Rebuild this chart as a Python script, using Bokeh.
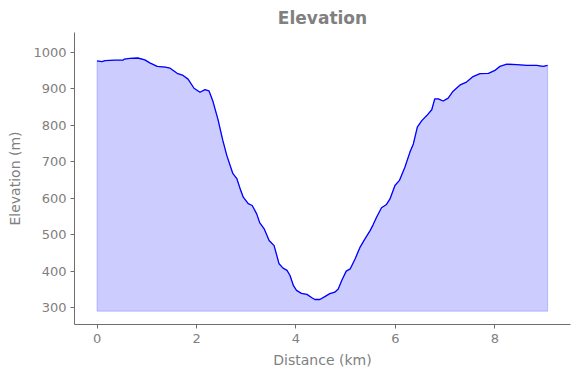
from bokeh.plotting import figure
from bokeh.models import Range1d, FixedTicker
from bokeh.embed import file_html
from bokeh.resources import INLINE

distance_km = [0.00, 0.10, 0.16, 0.36, 0.52, 0.55, 0.66, 0.82, 0.96, 1.07, 1.21, 1.37, 1.47,
               1.61, 1.73, 1.83, 1.95, 2.07, 2.17, 2.25, 2.33, 2.43, 2.53, 2.61, 2.73, 2.81,
               2.89, 2.94, 3.04, 3.12, 3.21, 3.27, 3.36, 3.46, 3.56, 3.66, 3.74, 3.82, 3.88,
               3.95, 4.01, 4.11, 4.22, 4.32, 4.38, 4.48, 4.58, 4.68, 4.78, 4.85, 4.92, 5.01,
               5.09, 5.19, 5.29, 5.39, 5.49, 5.55, 5.62, 5.72, 5.82, 5.89, 5.99, 6.08, 6.19,
               6.29, 6.36, 6.44, 6.53, 6.63, 6.73, 6.79, 6.86, 6.96, 7.06, 7.16, 7.30, 7.43,
               7.56, 7.70, 7.87, 8.00, 8.10, 8.24, 8.44, 8.64, 8.84, 8.97, 9.06]
elevation_m = [977, 975, 978, 979, 979, 982, 984, 985, 980, 971, 962, 960, 957,
               943, 937, 927, 902, 891, 898, 895, 866, 817, 758, 717, 668, 654,
               621, 603, 585, 580, 557, 533, 516, 484, 470, 420, 408, 402, 388,
               360, 347, 339, 336, 327, 322, 322, 330, 338, 342, 351, 374, 400,
               406, 434, 466, 489, 511, 527, 548, 574, 583, 598, 635, 649, 685,
               726, 749, 795, 813, 827, 843, 873, 873, 867, 875, 894, 911, 919,
               934, 942, 943, 951, 962, 968, 967, 965, 965, 962, 965]
fill_base = 290
x_ticks = [0, 2, 4, 6, 8]
y_ticks = [300, 400, 500, 600, 700, 800, 900, 1000]

TEXT = "#808080"
AXIS = "#6e6e6e"
FONT = "DejaVu Sans"

p = figure(width=580, height=378, output_backend="svg", toolbar_location=None,
           x_range=Range1d(-0.4535, 9.52), y_range=Range1d(253.4, 1055),
           min_border_left=74, min_border_right=10, min_border_top=32, min_border_bottom=54,
           title="Elevation")
p.outline_line_color = None
p.grid.grid_line_color = None
p.background_fill_color = "white"
p.border_fill_color = "white"

p.title.align = "center"
p.title.text_color = TEXT
p.title.text_font = FONT
p.title.text_font_size = "17px"
p.title.text_font_style = "bold"
p.title.offset = 0

poly_x = [distance_km[0]] + distance_km + [distance_km[-1]]
poly_y = [fill_base] + elevation_m + [fill_base]
p.patch(poly_x, poly_y, fill_color="blue", fill_alpha=0.2,
        line_color="blue", line_alpha=0.2, line_width=1)
p.line(distance_km, elevation_m, line_color="blue", line_width=1.3)

for ax in (p.xaxis, p.yaxis):
    ax.axis_line_color = AXIS
    ax.major_tick_line_color = AXIS
    ax.minor_tick_line_color = None
    ax.major_tick_in = 0
    ax.major_tick_out = 4
    ax.major_label_text_color = TEXT
    ax.major_label_text_font = FONT
    ax.major_label_text_font_size = "13px"
    ax.axis_label_text_color = TEXT
    ax.axis_label_text_font = FONT
    ax.axis_label_text_font_size = "14px"
    ax.axis_label_text_font_style = "normal"

p.xaxis.ticker = FixedTicker(ticks=x_ticks)
p.yaxis.ticker = FixedTicker(ticks=y_ticks)
p.xaxis.axis_label = "Distance (km)"
p.yaxis.axis_label = "Elevation (m)"
p.xaxis.major_label_standoff = 5
p.yaxis.major_label_standoff = 4
p.xaxis.axis_label_standoff = 6
p.yaxis.axis_label_standoff = 7

open("out.html", "w").write(file_html(p, INLINE))
